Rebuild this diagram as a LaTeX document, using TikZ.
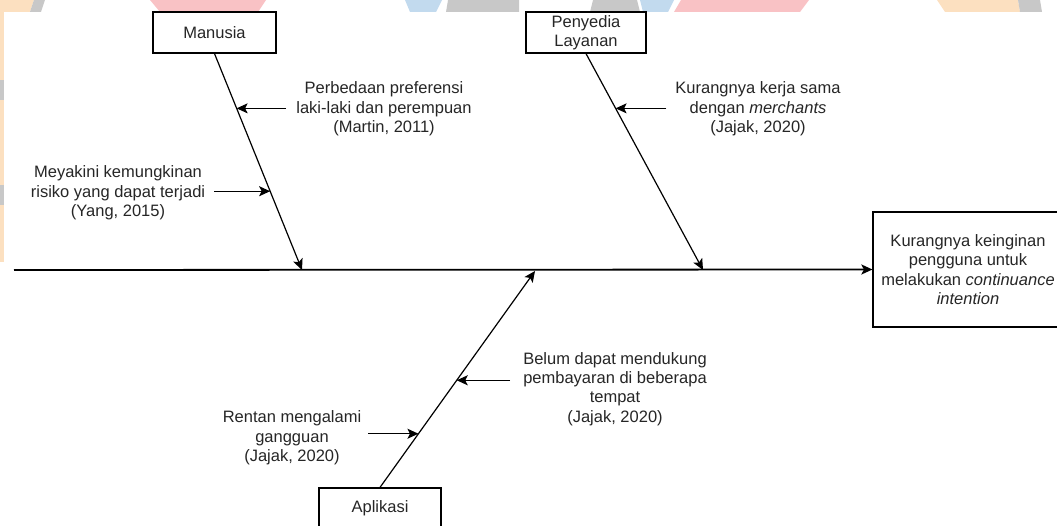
\documentclass[tikz,border=0pt]{standalone}
\usepackage{fontspec}
\setmainfont{Liberation Sans}
\usetikzlibrary{calc,arrows.meta}

\definecolor{wmpink}{HTML}{F9C2C5}
\definecolor{wmblue}{HTML}{C2DAEE}
\definecolor{wmgray}{HTML}{C8C8C8}
\definecolor{wmorange}{HTML}{FCE0C0}

\begin{document}
\begin{tikzpicture}[x=1pt, y=-1pt,
  box/.style={draw, line width=1.2pt, minimum width=123pt, minimum height=41pt,
    inner sep=0pt, align=center, font=\fontsize{16.5}{19.3}\selectfont, text=black!85},
  cause/.style={inner sep=0pt, align=center, font=\fontsize{16.5}{19.3}\selectfont, text=black!85},
  bone/.style={line width=1.2pt, -{Stealth[length=11pt, width=10pt, inset=2.5pt]}},
  spine/.style={line width=1.8pt, -{Stealth[length=11pt, width=10pt, inset=2.5pt]}}]
  \useasboundingbox (0,0) rectangle (1057,526);

  % faint watermark behind the figure
  \fill[wmorange] (0,0) rectangle (4,262);
  \fill[wmgray] (0,80) rectangle (4,100);
  \fill[wmgray] (0,185) rectangle (4,205);
  \fill[wmorange] (0,0) -- (34,0) -- (30,12) -- (0,12) -- cycle;
  \fill[wmgray] (34,0) -- (45,0) -- (41,12) -- (30,12) -- cycle;
  \fill[wmpink] (150,0) -- (266,0) -- (258,12) -- (160,12) -- cycle;
  \fill[wmblue] (405,0) -- (442,0) -- (436,12) -- (410,12) -- cycle;
  \fill[wmgray] (448,0) -- (519,0) -- (519,12) -- (446,12) -- cycle;
  \fill[wmgray] (593,0) -- (637,0) -- (640,12) -- (590,12) -- cycle;
  \fill[wmblue] (640,0) -- (674,0) -- (668,12) -- (643,12) -- cycle;
  \fill[wmpink] (681,0) -- (809,0) -- (800,12) -- (674,12) -- cycle;
  \fill[wmorange] (937,0) -- (1018,0) -- (1020,12) -- (945,12) -- cycle;
  \fill[wmgray] (1018,0) -- (1040,0) -- (1042,12) -- (1020,12) -- cycle;
  \fill[white] (4,12) rectangle (1057,526);

  % categories and effect
  \node[box] (manusia) at (214.5,32.5) {Manusia};
  \node[box, minimum width=120pt] (penyedia) at (586,32.5) {Penyedia\\Layanan};
  \node[box, minimum width=122pt] (aplikasi) at (380,508.5) {Aplikasi};
  \node[box, minimum width=190pt, minimum height=115pt] (akibat) at (968,269.5)
    {Kurangnya keinginan\\pengguna untuk\\melakukan \textit{continuance}\\\textit{intention}};

  % spine and bones
  \coordinate (ekor) at (14,270);
  \coordinate (mEnd) at (302,270);
  \coordinate (pEnd) at (703,270);
  \coordinate (aEnd) at (535,271);
  \draw[spine] (ekor) -- (akibat.west);
  \draw[bone] (manusia.south) -- (mEnd);
  \draw[bone] (penyedia.south) -- (pEnd);
  \draw[bone] (aplikasi.north) -- (aEnd);

  % points on the bones
  \coordinate (m1) at ($(manusia.south)!0.253!(mEnd)$);
  \coordinate (m2) at ($(manusia.south)!0.636!(mEnd)$);
  \coordinate (p1) at ($(penyedia.south)!0.253!(pEnd)$);
  \coordinate (a1) at ($(aplikasi.north)!0.495!(aEnd)$);
  \coordinate (a2) at ($(aplikasi.north)!0.248!(aEnd)$);

  % causes
  \node[cause] (c1) at (384,109) {Perbedaan preferensi\\laki-laki dan perempuan\\(Martin, 2011)};
  \node[cause] (c2) at (118,193) {Meyakini kemungkinan\\risiko yang dapat terjadi\\(Yang, 2015)};
  \node[cause] (c3) at (758,109) {Kurangnya kerja sama\\dengan \textit{merchants}\\(Jajak, 2020)};
  \node[cause] (c4) at (615,389) {Belum dapat mendukung\\pembayaran di beberapa\\tempat\\(Jajak, 2020)};
  \node[cause] (c5) at (292,438) {Rentan mengalami\\gangguan\\(Jajak, 2020)};

  \draw[bone] ($(m1 -| c1.west)+(-10,0)$) -- (m1);
  \draw[bone] ($(m2 -| c2.east)+(9,0)$) -- (m2);
  \draw[bone] ($(p1 -| c3.west)+(-9,0)$) -- (p1);
  \draw[bone] ($(a1 -| c4.west)+(-13,0)$) -- (a1);
  \draw[bone] ($(a2 -| c5.east)+(7,0)$) -- (a2);
\end{tikzpicture}
\end{document}
